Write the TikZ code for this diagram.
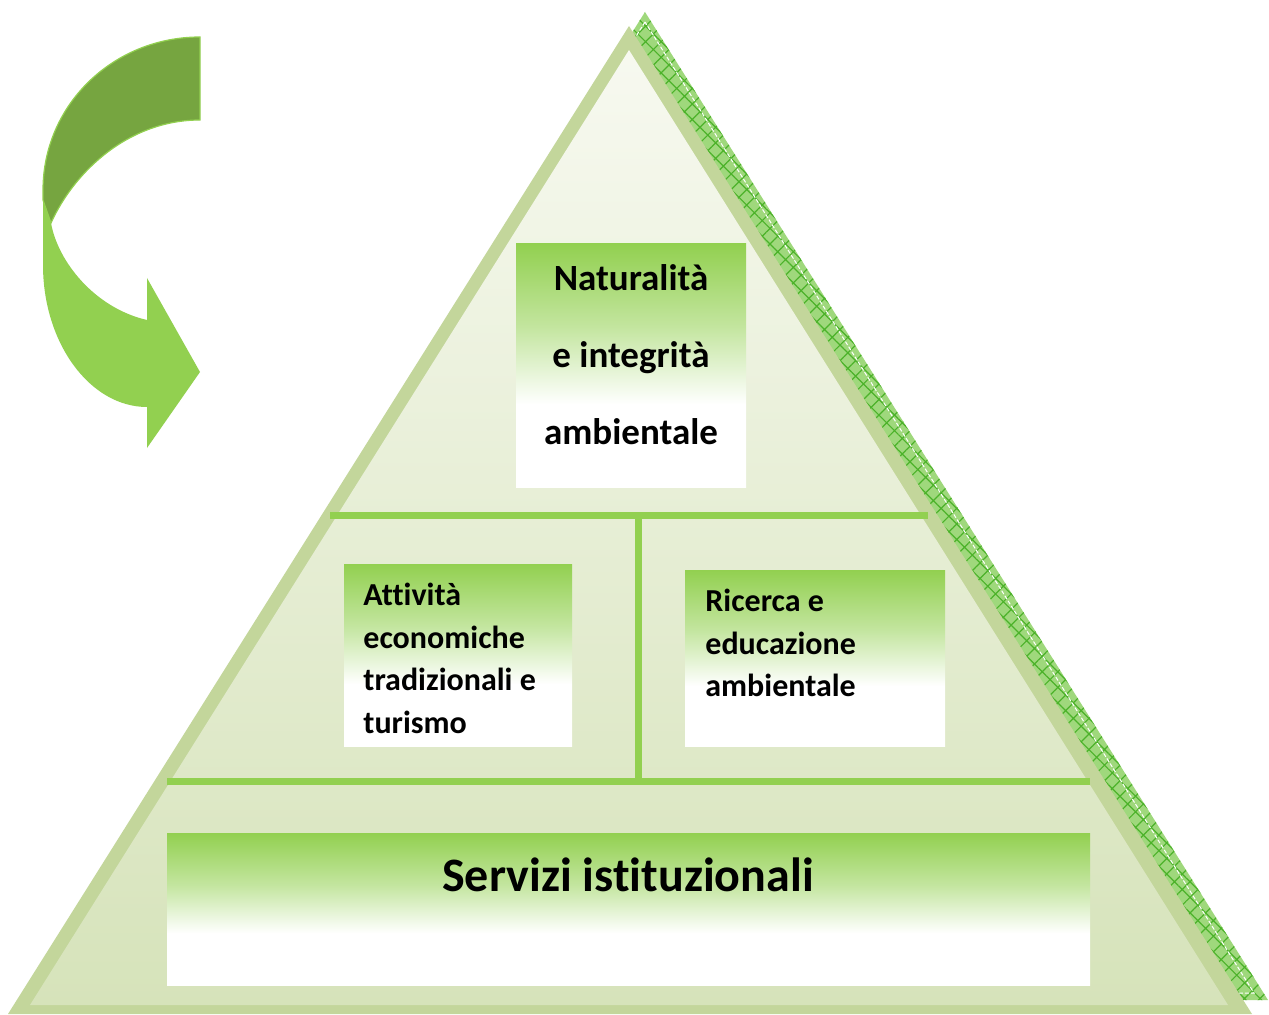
\documentclass[tikz,border=0pt]{standalone}
\usepackage{fontspec}
\setmainfont[Ligatures=NoCommon]{Carlito}
\usetikzlibrary{patterns.meta}
\definecolor{leaf}{HTML}{92D050}
\definecolor{moss}{HTML}{76A540}
\definecolor{sage}{HTML}{C3D69B}
\definecolor{hatchgreen}{HTML}{4CB22A}
\definecolor{shadowgreen}{HTML}{9FD87C}
\definecolor{palecream}{HTML}{F7F9F0}
\definecolor{palesage}{HTML}{D6E3BA}
\pgfdeclareverticalshading{leaffade}{100bp}{color(0bp)=(white); color(25bp)=(white); color(42bp)=(white); color(58bp)=(leaf!55!white); color(75bp)=(leaf); color(100bp)=(leaf)}
\begin{document}
\begin{tikzpicture}
[x=0.5pt,y=0.5pt,
 box/.style={shading=leaffade,inner sep=0pt},
 bar/.style={draw=leaf,line width=3.5pt},
 lbl/.style={inner sep=0pt}]
\useasboundingbox (0,0) rectangle (1269,1014);

\fill [shadowgreen] (645,1002) -- (24,14) -- (1268,14) -- cycle;
\fill [pattern={Hatch[distance=5.5pt,angle=45,line width=0.6pt]},pattern color=hatchgreen] (645,1002) -- (24,14) -- (1268,14) -- cycle;
\draw [white,line width=0.5pt,dash pattern=on 2pt off 1pt] (645,992) -- (38,21) -- (1254,21) -- cycle;
\fill [sage] (629,988) -- (8,0) -- (1252,0) -- cycle;
\shade [top color=palecream,bottom color=palesage] (629,964) -- (30,9) -- (1228,9) -- cycle;

\draw [bar] (330,499) -- (928,499);
\draw [bar] (638,499) -- (638,233);
\draw [bar] (167,233) -- (1090,233);

\node [box,minimum width=115pt,minimum height=121.5pt] at (631,648.5) (nat) {};
\node [box,minimum width=114pt,minimum height=91pt] at (458,359) (att) {};
\node [box,minimum width=130pt,minimum height=88pt] at (815,356) (ric) {};
\node [box,minimum width=461.5pt,minimum height=76pt] at (628.5,105) (ser) {};

\node [lbl,align=center,font=\bfseries\fontsize{18.5}{38.5}\selectfont] at (631,659) (nattext) {Naturalità\\e integrità\\ambientale};
\node [lbl,align=left,anchor=west,font=\bfseries\fontsize{16}{21.3}\selectfont] at (363,355.5) (atttext) {Attività\\economiche\\tradizionali e\\turismo};
\node [lbl,align=left,anchor=west,font=\bfseries\fontsize{16}{21.3}\selectfont] at (705,371) (rictext) {Ricerca e\\educazione\\ambientale};
\node [lbl,font=\bfseries\fontsize{24}{28}\selectfont] at (628,139) (sertext) {Servizi istituzionali};

\fill [leaf] (43,824) -- (43,749) .. controls (43,671) and (90,607) .. (147,607) -- (147,566) -- (200,642) -- (147,736) -- (147,694) .. controls (95,706) and (58,752) .. (51,791) -- cycle;
\filldraw [fill=moss,draw=leaf,line width=0.6pt] (200,977) .. controls (113,977) and (43,909) .. (43,824) -- (43,814) -- (51,791) .. controls (75,844) and (130,894) .. (200,894) -- cycle;
\end{tikzpicture}
\end{document}
